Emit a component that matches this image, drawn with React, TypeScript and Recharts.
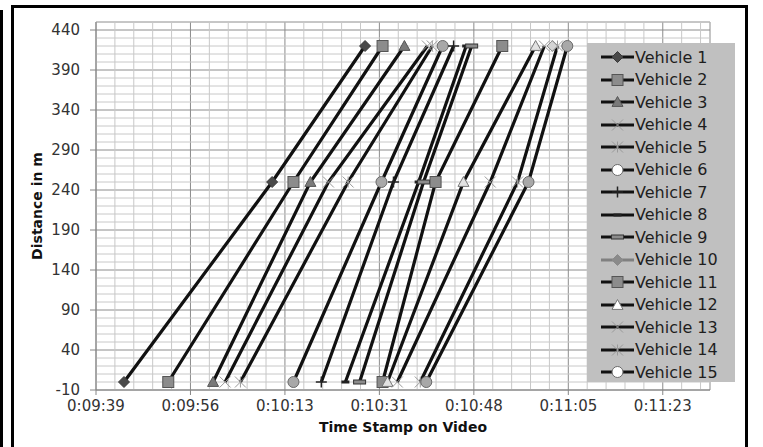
import React from "react";
import { LineChart, Line, XAxis, YAxis, CartesianGrid, ReferenceLine, Legend, Label } from "recharts";

// distance checkpoints along the stretch (m)
const DISTANCES = [0, 250, 420];

// time stamps (seconds of video) at which each vehicle passes the checkpoints
const VEHICLE_1 = [584.0, 611.1, 628.1];
const VEHICLE_2 = [592.1, 615.0, 631.3];
const VEHICLE_3 = [600.3, 618.1, 635.3];
const VEHICLE_4 = [602.5, 621.4, 639.5];
const VEHICLE_5 = [605.3, 625.0, 640.4];
const VEHICLE_6 = [615.0, 631.1, 642.3];
const VEHICLE_7 = [620.1, 633.3, 644.3];
const VEHICLE_8 = [624.5, 637.9, 646.6];
const VEHICLE_9 = [627.1, 638.8, 647.6];
const VEHICLE_10 = [null, null, 662.4];
const VEHICLE_11 = [631.3, 641.0, 653.2];
const VEHICLE_12 = [632.2, 646.1, 659.3];
const VEHICLE_13 = [634.0, 651.0, 660.9];
const VEHICLE_14 = [638.2, 656.0, 663.3];
const VEHICLE_15 = [639.3, 658.0, 665.1];

const X_TICKS = [578.88, 596.16, 613.44, 630.72, 648.0, 665.28, 682.56];
const Y_TICKS = [-10, 40, 90, 140, 190, 240, 290, 340, 390, 440];
const X_DOMAIN: [number, number] = [578.88, 691.2];
const Y_DOMAIN: [number, number] = [-10, 450];

type Shape = "diamond" | "square" | "triangle" | "cross" | "star" | "circle" | "plus" | "dash" | "bar";

interface MarkStyle {
  shape: Shape;
  fill: string;
  stroke: string;
  legendFill?: string;
}

interface Vehicle {
  name: string;
  times: (number | null)[];
  line: string;
  mark: MarkStyle;
}

const VEHICLES: Vehicle[] = [
  { name: "Vehicle 1", times: VEHICLE_1, line: "#111", mark: { shape: "diamond", fill: "#4a4a4a", stroke: "#3a3a3a" } },
  { name: "Vehicle 2", times: VEHICLE_2, line: "#111", mark: { shape: "square", fill: "#8c8c8c", stroke: "#555" } },
  { name: "Vehicle 3", times: VEHICLE_3, line: "#111", mark: { shape: "triangle", fill: "#7a7a7a", stroke: "#555" } },
  { name: "Vehicle 4", times: VEHICLE_4, line: "#111", mark: { shape: "cross", fill: "none", stroke: "#9a9a9a" } },
  { name: "Vehicle 5", times: VEHICLE_5, line: "#111", mark: { shape: "star", fill: "none", stroke: "#9a9a9a" } },
  { name: "Vehicle 6", times: VEHICLE_6, line: "#111", mark: { shape: "circle", fill: "#a8a8a8", stroke: "#6a6a6a", legendFill: "#fff" } },
  { name: "Vehicle 7", times: VEHICLE_7, line: "#111", mark: { shape: "plus", fill: "none", stroke: "#222" } },
  { name: "Vehicle 8", times: VEHICLE_8, line: "#111", mark: { shape: "dash", fill: "#222", stroke: "#222" } },
  { name: "Vehicle 9", times: VEHICLE_9, line: "#111", mark: { shape: "bar", fill: "#8c8c8c", stroke: "#333" } },
  { name: "Vehicle 10", times: VEHICLE_10, line: "#808080", mark: { shape: "diamond", fill: "#d4d4d4", stroke: "#8a8a8a", legendFill: "#8a8a8a" } },
  { name: "Vehicle 11", times: VEHICLE_11, line: "#111", mark: { shape: "square", fill: "#8c8c8c", stroke: "#555" } },
  { name: "Vehicle 12", times: VEHICLE_12, line: "#111", mark: { shape: "triangle", fill: "#e2e2e2", stroke: "#777", legendFill: "#fff" } },
  { name: "Vehicle 13", times: VEHICLE_13, line: "#111", mark: { shape: "cross", fill: "none", stroke: "#9a9a9a" } },
  { name: "Vehicle 14", times: VEHICLE_14, line: "#111", mark: { shape: "star", fill: "none", stroke: "#9a9a9a" } },
  { name: "Vehicle 15", times: VEHICLE_15, line: "#111", mark: { shape: "circle", fill: "#a8a8a8", stroke: "#6a6a6a", legendFill: "#fff" } },
];

// minor gridlines: 10 m and a fifth of a major time step
const Y_MINOR: number[] = [];
for (let v = -10; v <= 450; v += 10) if ((v + 10) % 50 !== 0) Y_MINOR.push(v);
const X_MINOR: number[] = [];
for (let k = 1; k <= 32; k++) if (k % 5 !== 0) X_MINOR.push(+(578.88 + k * 3.456).toFixed(3));

const clock = (sec: number) => {
  const s = Math.round(sec);
  const m = Math.floor(s / 60);
  return `0:${String(m).padStart(2, "0")}:${String(s % 60).padStart(2, "0")}`;
};

const FONT = "'DejaVu Sans', Verdana, sans-serif";

function Marker({ cx, cy, m, fill }: { cx: number; cy: number; m: MarkStyle; fill?: string }) {
  const f = fill ?? m.fill;
  const s = 5.5;
  switch (m.shape) {
    case "diamond":
      return <polygon points={`${cx},${cy - s} ${cx + s},${cy} ${cx},${cy + s} ${cx - s},${cy}`} fill={f} stroke={m.stroke} />;
    case "square":
      return <rect x={cx - s} y={cy - s} width={2 * s} height={2 * s} fill={f} stroke={m.stroke} />;
    case "triangle":
      return <polygon points={`${cx},${cy - s} ${cx + s},${cy + s * 0.8} ${cx - s},${cy + s * 0.8}`} fill={f} stroke={m.stroke} />;
    case "circle":
      return <circle cx={cx} cy={cy} r={s} fill={f} stroke={m.stroke} />;
    case "cross":
      return <path d={`M${cx - s},${cy - s}L${cx + s},${cy + s}M${cx + s},${cy - s}L${cx - s},${cy + s}`} stroke={m.stroke} strokeWidth={1} />;
    case "star":
      return (
        <path
          d={`M${cx - s},${cy - s}L${cx + s},${cy + s}M${cx + s},${cy - s}L${cx - s},${cy + s}M${cx},${cy - s}L${cx},${cy + s}`}
          stroke={m.stroke}
          strokeWidth={1}
        />
      );
    case "plus":
      return <path d={`M${cx - s},${cy}L${cx + s},${cy}M${cx},${cy - s}L${cx},${cy + s}`} stroke={m.stroke} strokeWidth={1.5} />;
    case "dash":
      return <rect x={cx - 4} y={cy - 1.5} width={8} height={3} fill={f} />;
    case "bar":
      return <rect x={cx - 6} y={cy - 2} width={12} height={4} fill={f} stroke={m.stroke} />;
  }
  return null;
}

const LegendBox = () => (
  <div style={{ background: "#c0c0c0", width: 148, height: 339, boxSizing: "border-box", paddingTop: 3 }}>
    {VEHICLES.map((v) => (
      <div key={v.name} style={{ height: 22.5, display: "flex", alignItems: "center" }}>
        <svg width={33} height={20} style={{ marginLeft: 14, flex: "none" }}>
          <line x1={0} x2={33} y1={10} y2={10} stroke={v.line} strokeWidth={3} />
          <Marker cx={16.5} cy={10} m={v.mark} fill={v.mark.legendFill} />
        </svg>
        <span style={{ marginLeft: 1, fontFamily: FONT, fontSize: 16, color: "#1e1e1e", whiteSpace: "nowrap" }}>{v.name}</span>
      </div>
    ))}
  </div>
);

export default function App() {
  return (
    <div style={{ position: "absolute", left: 0, top: 0, width: 763, height: 447, background: "#fff", overflow: "hidden" }}>
      <LineChart width={763} height={447} margin={{ top: 22, right: 53, left: 36, bottom: 27 }}>
        {Y_MINOR.map((v) => (
          <ReferenceLine key={`y${v}`} y={v} stroke="#c8c8c8" strokeWidth={1} />
        ))}
        {X_MINOR.map((v) => (
          <ReferenceLine key={`x${v}`} x={v} stroke="#c8c8c8" strokeWidth={1} />
        ))}
        <CartesianGrid stroke="#8c8c8c" />
        <XAxis
          type="number"
          dataKey="t"
          domain={X_DOMAIN}
          ticks={X_TICKS}
          interval={0}
          allowDataOverflow
          tickFormatter={clock}
          stroke="#868686"
          tickSize={5}
          tickMargin={5}
          height={30}
          tick={{ fill: "#333", fontSize: 15, fontFamily: FONT }}
        >
          <Label
            value="Time Stamp on Video"
            position="bottom"
            offset={2}
            style={{ fontWeight: "bold", fontSize: 14, fill: "#111", fontFamily: FONT }}
          />
        </XAxis>
        <YAxis
          type="number"
          dataKey="d"
          domain={Y_DOMAIN}
          ticks={Y_TICKS}
          interval={0}
          allowDataOverflow
          stroke="#868686"
          tickSize={6}
          tickMargin={10}
          width={60}
          tick={{ fill: "#333", fontSize: 15, fontFamily: FONT }}
        >
          <Label
            value="Distance in m"
            angle={-90}
            position="insideLeft"
            offset={1}
            style={{ textAnchor: "middle", fontWeight: "bold", fontSize: 14, fill: "#111", fontFamily: FONT }}
          />
        </YAxis>
        <Legend
          layout="vertical"
          align="center"
          verticalAlign="middle"
          wrapperStyle={{ position: "absolute", left: 587, top: 43, width: 148, height: 339 }}
          content={LegendBox}
        />
        {VEHICLES.map((v) => {
          const data = v.times
            .map((t, i) => (t == null ? null : { t, d: DISTANCES[i] }))
            .filter((p): p is { t: number; d: number } => p !== null);
          return (
            <Line
              key={v.name}
              name={v.name}
              data={data}
              dataKey="d"
              type="linear"
              stroke={v.line}
              strokeWidth={3.2}
              isAnimationActive={false}
              activeDot={false}
              dot={(p: any) => <Marker key={`${v.name}-${p.index}`} cx={p.cx} cy={p.cy} m={v.mark} />}
            />
          );
        })}
      </LineChart>
      {/* frame around the figure */}
      <div style={{ position: "absolute", left: 0, top: 10, width: 3, height: 460, background: "#000" }} />
      <div
        style={{
          position: "absolute",
          left: 11,
          top: 5,
          width: 737,
          height: 470,
          border: "3px solid #000",
          boxSizing: "border-box",
          pointerEvents: "none",
        }}
      />
    </div>
  );
}
